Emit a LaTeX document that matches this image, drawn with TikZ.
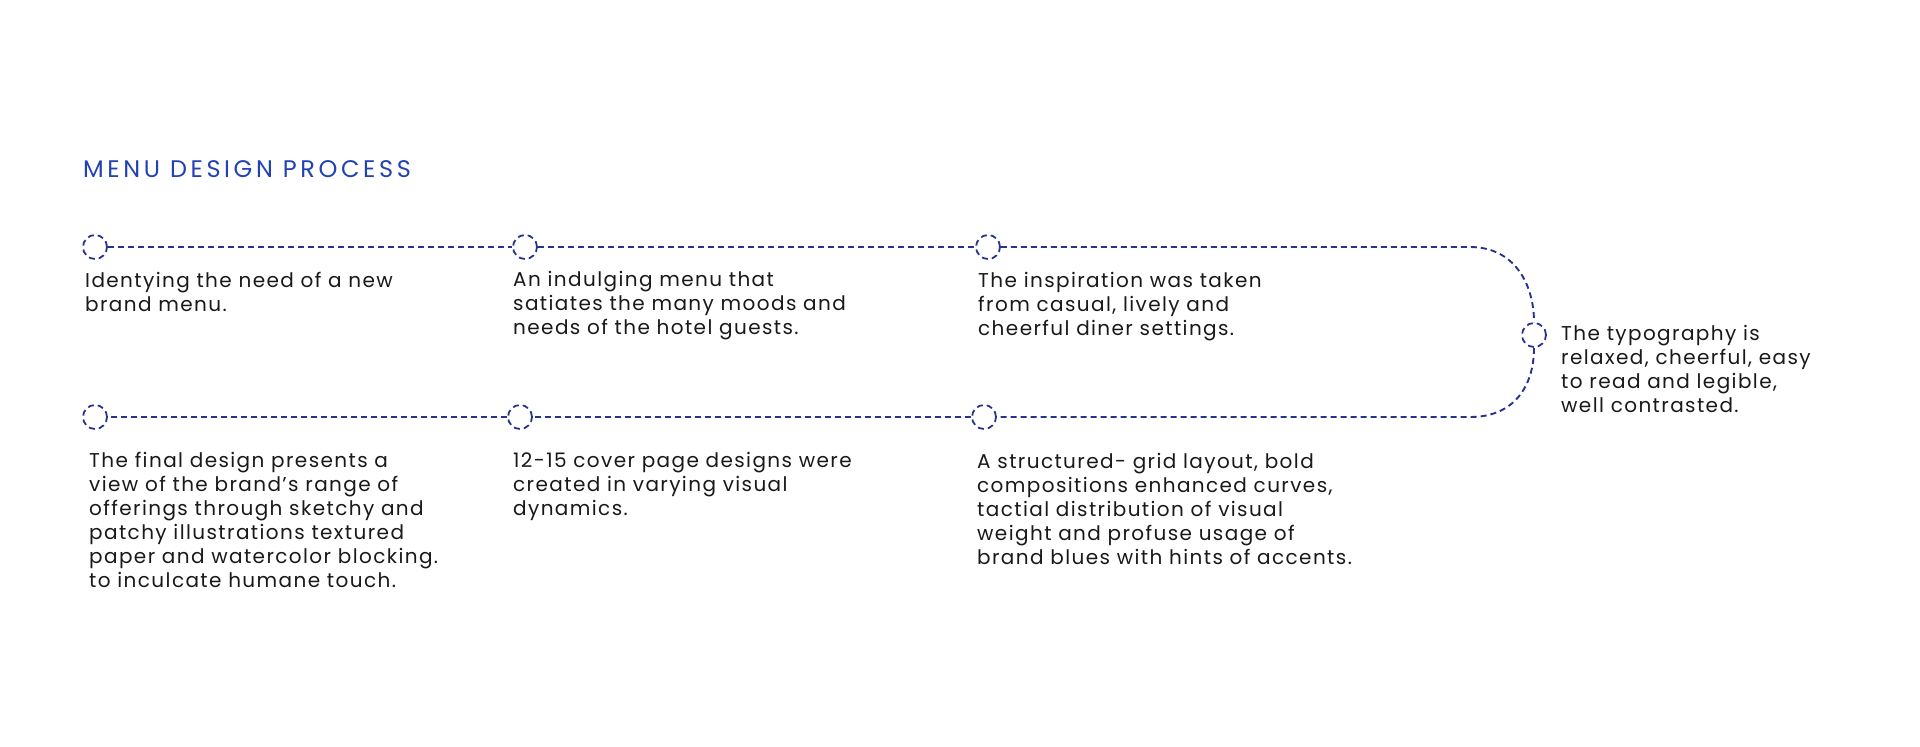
\documentclass[tikz,border=0pt]{standalone}
\usepackage{fontspec}
\setmainfont{Poppins}
\newfontfamily\bodyfont[LetterSpace=7]{Poppins}
\newfontfamily\titlefont[LetterSpace=15]{Poppins}
\definecolor{lineblue}{RGB}{38,50,140}
\definecolor{titleblue}{RGB}{35,65,180}
\definecolor{txt}{RGB}{25,25,25}
\begin{document}
\begin{tikzpicture}[x=1pt,y=-1pt,
  dot/.style={circle,draw=lineblue,line width=1.8pt,dash pattern=on 6pt off 4pt,minimum size=24pt,inner sep=0pt},
  link/.style={draw=lineblue,line width=1.9pt,dash pattern=on 6pt off 4pt},
  desc/.style={anchor=base west,inner sep=0pt,align=left,text=txt,font=\bodyfont\fontsize{20pt}{24pt}\selectfont},
  ttl/.style={anchor=base west,inner sep=0pt,text=titleblue,font=\titlefont\fontsize{24pt}{28pt}\selectfont}]
\useasboundingbox (0,0) rectangle (1920,747);
\node[ttl] (title) at (83,177) {MENU DESIGN PROCESS};
% top row
\node[dot] (c1) at (95,247) {};
\node[dot] (c2) at (525,247) {};
\node[dot] (c3) at (988,247) {};
\node[dot] (r) at (1534,335) {};
% bottom row
\node[dot] (d1) at (95,417) {};
\node[dot] (d2) at (520,417) {};
\node[dot] (d3) at (984,417) {};
\coordinate (tc) at (1470,247);
\coordinate (bc) at (1470,417);
\draw[link] (c1) -- (c2);
\draw[link] (c2) -- (c3);
\draw[link] (c3) -- (tc) .. controls (1515,247) and (1534,285) .. (r.north);
\draw[link] (r.south) .. controls (1534,385) and (1515,417) .. (bc) -- (d3);
\draw[link] (d3) -- (d2);
\draw[link] (d2) -- (d1);
% texts (anchor = baseline of the last line)
\node[desc] (t1) at (85,311) {Identying the need of a new\\brand menu.};
\node[desc] (t2) at (513,334) {An indulging menu that\\satiates the many moods and\\needs of the hotel guests.};
\node[desc] (t3) at (978,335) {The inspiration was taken\\from casual, lively and\\cheerful diner settings.};
\node[desc] (t4) at (1561,412) {The typography is\\relaxed, cheerful, easy\\to read and legible,\\well contrasted.};
\node[desc] (t5) at (89,587) {The final design presents a\\view of the brand’s range of\\offerings through sketchy and\\patchy illustrations textured\\paper and watercolor blocking.\\to inculcate humane touch.};
\node[desc] (t6) at (513,515) {12-15 cover page designs were\\created in varying visual\\dynamics.};
\node[desc] (t7) at (977,564) {A structured- grid layout, bold\\compositions enhanced curves,\\tactial distribution of visual\\weight and profuse usage of\\brand blues with hints of accents.};
\end{tikzpicture}
\end{document}
